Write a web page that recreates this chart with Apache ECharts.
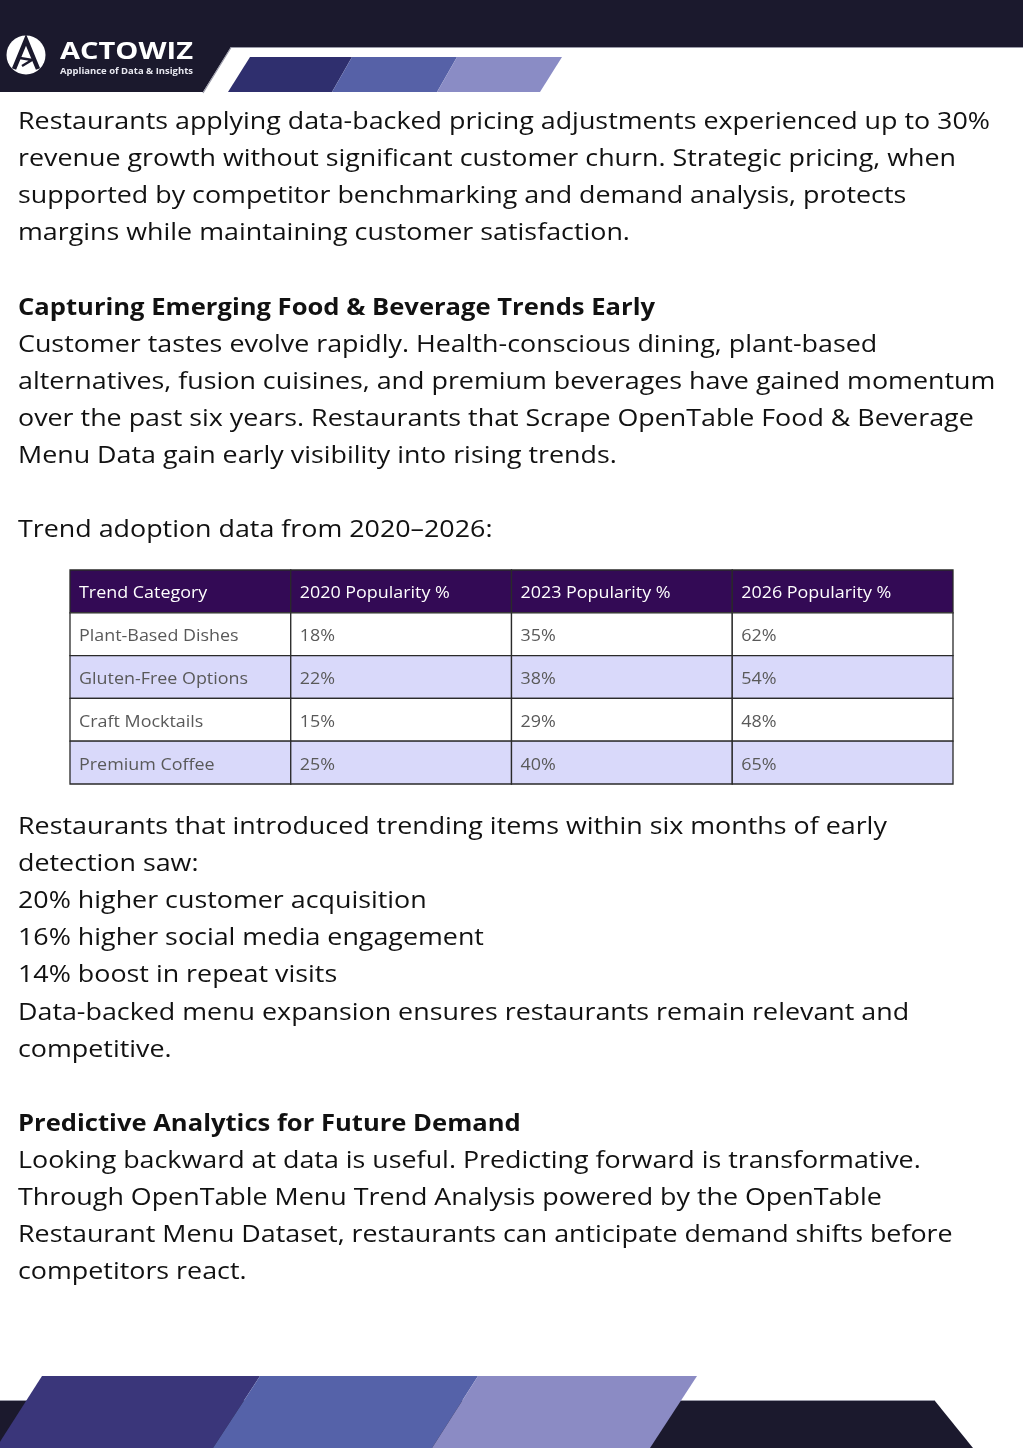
<!DOCTYPE html>
<html lang="en">
<head>
    <meta charset="utf-8">
    <title>Trend adoption data</title>
    <script src="https://cdn.jsdelivr.net/npm/echarts@6/dist/echarts.min.js"></script>
    <style>
        html, body { margin: 0; padding: 0; background: #fff; }
        #page { width: 1023px; height: 1448px; }
    </style>
</head>
<body>
    <div id="page"></div>
    <script>
        // table data
        var columnHeaders = ['Trend Category', '2020 Popularity %', '2023 Popularity %', '2026 Popularity %'];
        var trendCategories = ['Plant-Based Dishes', 'Gluten-Free Options', 'Craft Mocktails', 'Premium Coffee'];
        var pop2020 = [18, 22, 15, 25];
        var pop2023 = [35, 38, 29, 40];
        var pop2026 = [62, 54, 48, 65];

        // body text ('' = empty line)
        var topLines = [
            'Restaurants applying data-backed pricing adjustments experienced up to 30%',
            'revenue growth without significant customer churn. Strategic pricing, when',
            'supported by competitor benchmarking and demand analysis, protects',
            'margins while maintaining customer satisfaction.',
            '',
            'Capturing Emerging Food & Beverage Trends Early',
            'Customer tastes evolve rapidly. Health-conscious dining, plant-based',
            'alternatives, fusion cuisines, and premium beverages have gained momentum',
            'over the past six years. Restaurants that Scrape OpenTable Food & Beverage',
            'Menu Data gain early visibility into rising trends.',
            '',
            'Trend adoption data from 2020\u20132026:'
        ];
        var bottomLines = [
            'Restaurants that introduced trending items within six months of early',
            'detection saw:',
            '20% higher customer acquisition',
            '16% higher social media engagement',
            '14% boost in repeat visits',
            'Data-backed menu expansion ensures restaurants remain relevant and',
            'competitive.',
            '',
            'Predictive Analytics for Future Demand',
            'Looking backward at data is useful. Predicting forward is transformative.',
            'Through OpenTable Menu Trend Analysis powered by the OpenTable',
            'Restaurant Menu Dataset, restaurants can anticipate demand shifts before',
            'competitors react.'
        ];
        var headings = ['Capturing Emerging Food & Beverage Trends Early', 'Predictive Analytics for Future Demand'];

        var FONT = '"Open Sans", Lato, sans-serif';
        var ctx = document.createElement('canvas').getContext('2d');
        function measure(txt, weight, size) {
            ctx.font = weight + ' ' + size + 'px ' + FONT;
            return ctx.measureText(txt).width;
        }
        var bodySize = 23;
        var sxBody = 972 / measure(topLines[0], 'normal', bodySize);
        var sxBold = 637 / measure(headings[0], 'bold', bodySize);

        var lineGap = 37.1;
        var graphics = [];
        function addLines(lines, y0) {
            lines.forEach(function (t, i) {
                if (!t) return;
                var bold = headings.indexOf(t) >= 0;
                graphics.push({
                    type: 'text', x: 18, y: y0 + i * lineGap,
                    scaleX: bold ? sxBold : sxBody,
                    style: {
                        text: t, fill: '#111',
                        font: (bold ? 'bold ' : '') + bodySize + 'px ' + FONT,
                        verticalAlign: 'middle'
                    }
                });
            });
        }
        addLines(topLines, 122.5);
        addLines(bottomLines, 827.5);

        // header band
        graphics.push({ type: 'polygon', shape: { points: [[0, 0], [1023, 0], [1023, 47], [231, 47], [203, 92], [0, 92]] },
            style: { fill: '#1b192d' }, z: 1 });
        graphics.push({ type: 'polyline', shape: { points: [[1023, 47.5], [231, 47.5], [203, 93]] },
            style: { stroke: '#9a9aa8', lineWidth: 1.2, fill: null }, z: 2 });
        var stripeCols = ['#2f2f6e', '#5661a7', '#8a8cc5'];
        [[250, 352, 332, 228], [352, 457, 437, 332], [457, 562, 540, 437]].forEach(function (s, i) {
            graphics.push({ type: 'polygon', shape: { points: [[s[0], 57], [s[1], 57], [s[2], 92], [s[3], 92]] },
                style: { fill: stripeCols[i] }, z: 2 });
        });
        // logo
        graphics.push({ type: 'circle', shape: { cx: 26, cy: 55, r: 19.5 }, style: { fill: '#fff' }, z: 3 });
        graphics.push({ type: 'polyline', shape: { points: [[14, 69], [26, 40], [38, 69]] },
            style: { stroke: '#1b192d', lineWidth: 4.5, fill: null, lineJoin: 'miter' }, z: 4 });
        graphics.push({ type: 'polyline', shape: { points: [[20, 58], [32, 60], [22, 66]] },
            style: { stroke: '#1b192d', lineWidth: 2.5, fill: null }, z: 4 });
        var logoSx = 133 / measure('ACTOWIZ', 'bold', 24);
        graphics.push({ type: 'text', x: 60, y: 52, scaleX: logoSx, z: 4,
            style: { text: 'ACTOWIZ', fill: '#fff', font: 'bold 24px ' + FONT, verticalAlign: 'middle' } });
        var subSx = 133 / measure('Appliance of Data & Insights', 'bold', 9);
        graphics.push({ type: 'text', x: 60, y: 71, scaleX: subSx, z: 4,
            style: { text: 'Appliance of Data & Insights', fill: '#e8e8f0', font: 'bold 9px ' + FONT, verticalAlign: 'middle' } });

        // footer band
        graphics.push({ type: 'polygon', shape: { points: [[0, 1401], [935, 1401], [973, 1448], [0, 1448]] },
            style: { fill: '#1b192d' }, z: 1 });
        graphics.push({ type: 'polyline', shape: { points: [[0, 1400.5], [935, 1400.5]] },
            style: { stroke: '#9a9aa8', lineWidth: 1.2, fill: null }, z: 1 });
        var footCols = ['#3a367a', '#5562a9', '#8b8bc4'];
        [[42, 260, 213, -4], [260, 478, 432, 213], [478, 697, 650, 432]].forEach(function (s, i) {
            graphics.push({ type: 'polygon', shape: { points: [[s[0], 1376], [s[1], 1376], [s[2], 1448], [s[3], 1448]] },
                style: { fill: footCols[i] }, z: 2 });
        });

        // table cells: [col, row, text]
        var cells = [];
        columnHeaders.forEach(function (h, c) { cells.push([c, 0, h]); });
        trendCategories.forEach(function (name, r) {
            cells.push([0, r + 1, name]);
            cells.push([1, r + 1, pop2020[r] + '%']);
            cells.push([2, r + 1, pop2023[r] + '%']);
            cells.push([3, r + 1, pop2026[r] + '%']);
        });
        var cellSize = 16;
        var sxCell = 169 / measure('Gluten-Free Options', 'normal', cellSize);
        var rowLabels = ['h'].concat(trendCategories);

        var chart = echarts.init(document.getElementById('page'));
        chart.setOption({
            animation: false,
            grid: { left: 70, top: 570, width: 883, height: 214 },
            xAxis: { type: 'category', data: columnHeaders, show: false },
            yAxis: { type: 'category', data: rowLabels, inverse: true, show: false },
            graphic: graphics,
            series: [{
                type: 'custom',
                data: cells,
                renderItem: function (params, api) {
                    var c = api.value(0), r = api.value(1);
                    var ctr = api.coord([c, r]);
                    var sz = api.size([1, 1]);
                    var x0 = ctr[0] - sz[0] / 2, y0 = ctr[1] - sz[1] / 2;
                    var fill = r === 0 ? '#330a55' : (r % 2 === 0 ? '#d9d9fa' : '#ffffff');
                    var txt = cells[params.dataIndex][2];
                    return {
                        type: 'group',
                        children: [{
                            type: 'rect',
                            shape: { x: x0, y: y0, width: sz[0], height: sz[1] },
                            style: { fill: fill, stroke: '#2a2a2a', lineWidth: 1.3 }
                        }, {
                            type: 'text',
                            x: x0 + 9, y: ctr[1] + 2.5,
                            scaleX: sxCell,
                            style: {
                                text: txt, fill: r === 0 ? '#ffffff' : '#595959',
                                font: cellSize + 'px ' + FONT, verticalAlign: 'middle'
                            }
                        }]
                    };
                }
            }]
        });
    </script>
</body>
</html>
